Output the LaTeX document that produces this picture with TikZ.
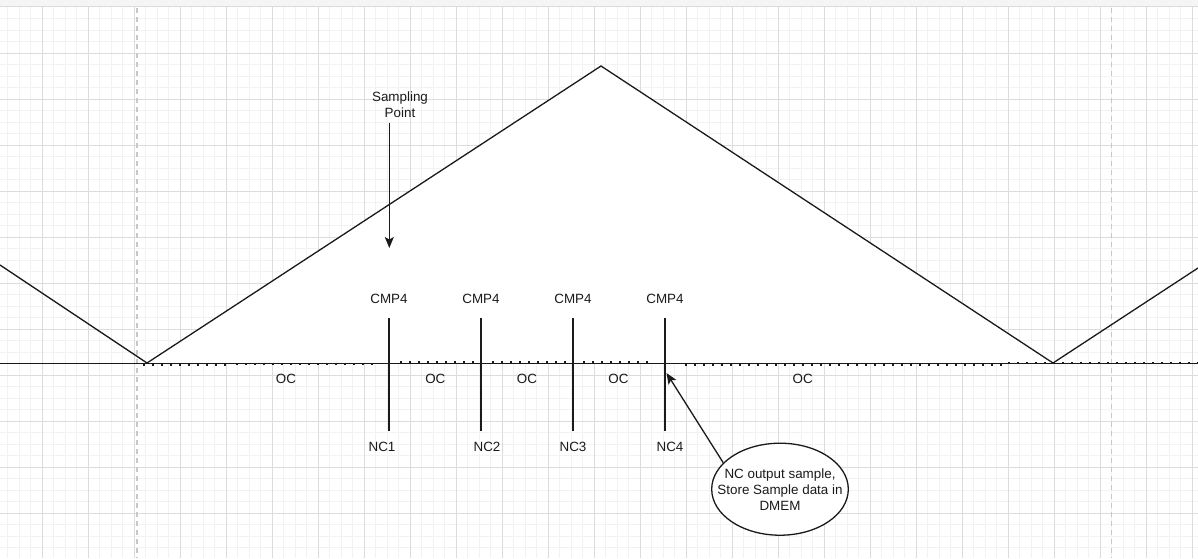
\documentclass[tikz,border=0pt]{standalone}
\usepackage{fontspec}
\setmainfont{Liberation Sans}
\usetikzlibrary{arrows.meta,shapes.geometric}
\definecolor{majg}{HTML}{DCDCDC}
\definecolor{ming}{HTML}{F2F2F2}
\definecolor{dashg}{HTML}{C8C8C8}
\definecolor{ink}{HTML}{1A1A1A}
\tikzset{
  majorgrid/.style={draw=majg, line width=0.9pt},
  minorgrid/.style={draw=ming, line width=0.9pt},
  wave/.style={draw=ink, line width=1.3pt},
  lbl/.style={font=\fontsize{13.4}{16}\selectfont, text=ink, inner sep=0pt, align=center},
  cmpline/.style={draw=ink, line width=1.3pt},
  dotline/.style={draw=ink, line width=2.2pt, dash pattern=on 2.2pt off 6.8pt},
  vdash/.style={draw=dashg, line width=1.6pt, dash pattern=on 5pt off 4pt},
  arr/.style={draw=ink, line width=1.3pt, -{Stealth[length=11pt,width=9pt,inset=2.5pt]}},
  bubble/.style={ellipse, draw=ink, line width=1.3pt, fill=white, minimum width=136.6pt, minimum height=92pt, inner sep=0pt}
}
\begin{document}
\begin{tikzpicture}[x=1pt,y=-1pt]
\useasboundingbox (0,0) rectangle (1198,558);
\fill[white] (0,0) rectangle (1198,558);
% top band
\fill[black!4] (0,0) rectangle (1198,6.5);
\draw[draw=black!14, line width=1pt] (0,6.5) -- (1198,6.5);
% grid
\foreach \k in {0,...,103} \draw[minorgrid] ({7.8+11.5*\k},7.3) -- ({7.8+11.5*\k},558);
\foreach \k in {1,...,47} \draw[minorgrid] (0,{7.3+11.5*\k}) -- (1198,{7.3+11.5*\k});
\foreach \k in {0,...,25} \draw[majorgrid] ({42.3+46*\k},7.3) -- ({42.3+46*\k},558);
\foreach \k in {1,...,11} \draw[majorgrid] (0,{7.3+46*\k}) -- (1198,{7.3+46*\k});
% dashed verticals
\coordinate (d1t) at (137,8); \coordinate (d1b) at (137,558);
\coordinate (d2t) at (1111.5,8); \coordinate (d2b) at (1111.5,558);
\draw[vdash] (d1t) -- (d1b);
\draw[vdash] (d2t) -- (d2b);
% waveform
\coordinate (w0) at (0,265);
\coordinate (w1) at (147,363);
\coordinate (w2) at (601,66);
\coordinate (w3) at (1053,363);
\coordinate (w4) at (1198,268);
\fill[white] (w1) -- (w2) -- (w3) -- cycle;
\draw[wave] (w0) -- (w1) -- (w2) -- (w3) -- (w4);
% dotted segments
\draw[dotline] (143,365.2) -- (228,365.2);
\draw[dotline] (236,364.2) -- (375,364.2);
\draw[dotline] (400,362.3) -- (479,362.3);
\draw[dotline] (492,362.3) -- (567,362.3);
\draw[dotline] (583,362.3) -- (652,362.3);
\draw[dotline] (685,364.6) -- (1008,364.6);
\draw[dotline] (1008,362.6) -- (1198,362.6);
% baseline
\coordinate (b0) at (0,363.3); \coordinate (b1) at (1198,363.3);
\draw[wave] (b0) -- (b1);
% sampling point
\node[lbl] (sp) at (400,105) {Sampling\\Point};
\coordinate (spa) at (389.3,122.5);
\coordinate (spb) at (389.3,248);
\draw[arr] (spa) -- (spb);
% CMP4 labels and lines
\node[lbl] (c1) at (389,299) {CMP4};
\node[lbl] (c2) at (481,299) {CMP4};
\node[lbl] (c3) at (573,299) {CMP4};
\node[lbl] (c4) at (665,299) {CMP4};
\coordinate (l1t) at (389,318); \coordinate (l1b) at (389,431);
\coordinate (l2t) at (481,318); \coordinate (l2b) at (481,431);
\coordinate (l3t) at (573,318); \coordinate (l3b) at (573,431);
\coordinate (l4t) at (665,318); \coordinate (l4b) at (665,431);
\draw[cmpline] (l1t) -- (l1b);
\draw[cmpline] (l2t) -- (l2b);
\draw[cmpline] (l3t) -- (l3b);
\draw[cmpline] (l4t) -- (l4b);
% NC labels
\node[lbl] (n1) at (382,446.5) {NC1};
\node[lbl] (n2) at (487,446.5) {NC2};
\node[lbl] (n3) at (573,446.5) {NC3};
\node[lbl] (n4) at (670,446.5) {NC4};
% OC labels
\node[lbl] (o1) at (286,378.5) {OC};
\node[lbl] (o2) at (435.3,378.5) {OC};
\node[lbl] (o3) at (527,378.5) {OC};
\node[lbl] (o4) at (618.5,378.5) {OC};
\node[lbl] (o5) at (802.7,378.5) {OC};
% bubble
\node[bubble] (ell) at (780,489.2) {};
\node[lbl] (elltxt) at (ell.center) {NC output sample,\\Store Sample data in\\DMEM};
\coordinate (tip) at (666.5,373);
\draw[arr] (ell.155) -- (tip);
\end{tikzpicture}
\end{document}
